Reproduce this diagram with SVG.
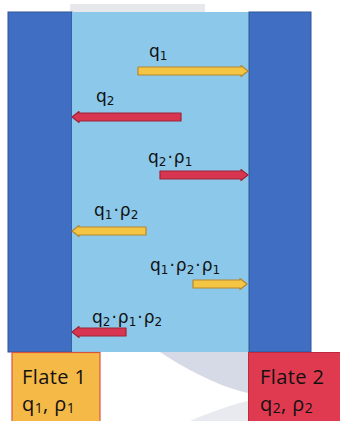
<svg xmlns="http://www.w3.org/2000/svg" width="340" height="421" viewBox="0 0 340 421">
<style>
.lbl{font-family:"DejaVu Sans",Verdana,sans-serif;font-size:17px;fill:#111}
.sub{font-size:12px}
.flate{font-family:"Open Sans","Liberation Sans",sans-serif;font-size:20px;fill:#111;letter-spacing:0.4px}
.fsub{font-size:14px}
.yel{fill:#F4C443;stroke:#B5882C;stroke-width:1.2;stroke-linejoin:round}
.red{fill:#D83650;stroke:#9E2436;stroke-width:1.2;stroke-linejoin:round}
</style>
<rect width="340" height="421" fill="#ffffff"/>
<path d="M70 4 H205 V12 H70 Z" fill="#c9ccd4" opacity="0.45"/>
<path d="M160 352 C195 375 225 388 248 393 L248 352 Z" fill="#c5cbdb" opacity="0.7"/>
<path d="M190 421 C215 410 235 404 248 401 L248 421 Z" fill="#d8dce6" opacity="0.6"/>
<g id="plate-left"><rect x="8" y="12" width="64" height="340" fill="#3F6EC2" stroke="#2E5598" stroke-width="1"/></g>
<g id="gap"><rect x="72" y="12" width="177" height="340" fill="#8BC8EA"/></g>
<g id="plate-right"><rect x="249" y="12" width="62" height="340" fill="#3F6EC2" stroke="#2E5598" stroke-width="1"/></g>
<g id="connectors">
<path class="yel" d="M138 67 H241 V65.5 L248 71 L241 76.5 V75 H138 Z"/>
<path class="red" d="M181 113 H79 V111.5 L72 117 L79 122.5 V121 H181 Z"/>
<path class="red" d="M160 171 H241 V169.5 L248 175 L241 180.5 V179 H160 Z"/>
<path class="yel" d="M146 227 H79 V225.5 L72 231 L79 236.5 V235 H146 Z"/>
<path class="yel" d="M193 280 H240 V278.5 L247 284 L240 289.5 V288 H193 Z"/>
<path class="red" d="M126 328 H79 V326.5 L72 332 L79 337.5 V336 H126 Z"/>
</g>
<g id="label-q1"><text class="lbl" x="149" y="57">q<tspan class="sub" dy="3">1</tspan></text></g>
<g id="label-q2"><text class="lbl" x="96" y="102">q<tspan class="sub" dy="3">2</tspan></text></g>
<g id="label-q2p1"><text class="lbl" x="148" y="163">q<tspan class="sub" dy="3">2</tspan><tspan dx="1" dy="-3">·</tspan><tspan dx="1">ρ</tspan><tspan class="sub" dy="3">1</tspan></text></g>
<g id="label-q1p2"><text class="lbl" x="94" y="216">q<tspan class="sub" dy="3">1</tspan><tspan dx="1" dy="-3">·</tspan><tspan dx="1">ρ</tspan><tspan class="sub" dy="3">2</tspan></text></g>
<g id="label-q1p2p1"><text class="lbl" x="150" y="271">q<tspan class="sub" dy="3">1</tspan><tspan dx="1" dy="-3">·</tspan><tspan dx="1">ρ</tspan><tspan class="sub" dy="3">2</tspan><tspan dx="1" dy="-3">·</tspan><tspan dx="1">ρ</tspan><tspan class="sub" dy="3">1</tspan></text></g>
<g id="label-q2p1p2"><text class="lbl" x="92" y="323">q<tspan class="sub" dy="3">2</tspan><tspan dx="1" dy="-3">·</tspan><tspan dx="1">ρ</tspan><tspan class="sub" dy="3">1</tspan><tspan dx="1" dy="-3">·</tspan><tspan dx="1">ρ</tspan><tspan class="sub" dy="3">2</tspan></text></g>
<g id="flate1">
<rect x="12" y="352.5" width="88" height="72" fill="#F5B947" stroke="#D9553F" stroke-width="1.2"/>
<text class="flate" x="22" y="384">Flate 1</text>
<text class="flate" x="22" y="411">q<tspan class="fsub" dy="2">1</tspan><tspan dy="-2">, ρ</tspan><tspan class="fsub" dy="2">1</tspan></text>
</g>
<g id="flate2">
<rect x="248.5" y="352.5" width="95" height="72" fill="#E03A50" stroke="#C02A40" stroke-width="1"/>
<text class="flate" x="260" y="384">Flate 2</text>
<text class="flate" x="260" y="411">q<tspan class="fsub" dy="2">2</tspan><tspan dy="-2">, ρ</tspan><tspan class="fsub" dy="2">2</tspan></text>
</g>
</svg>
